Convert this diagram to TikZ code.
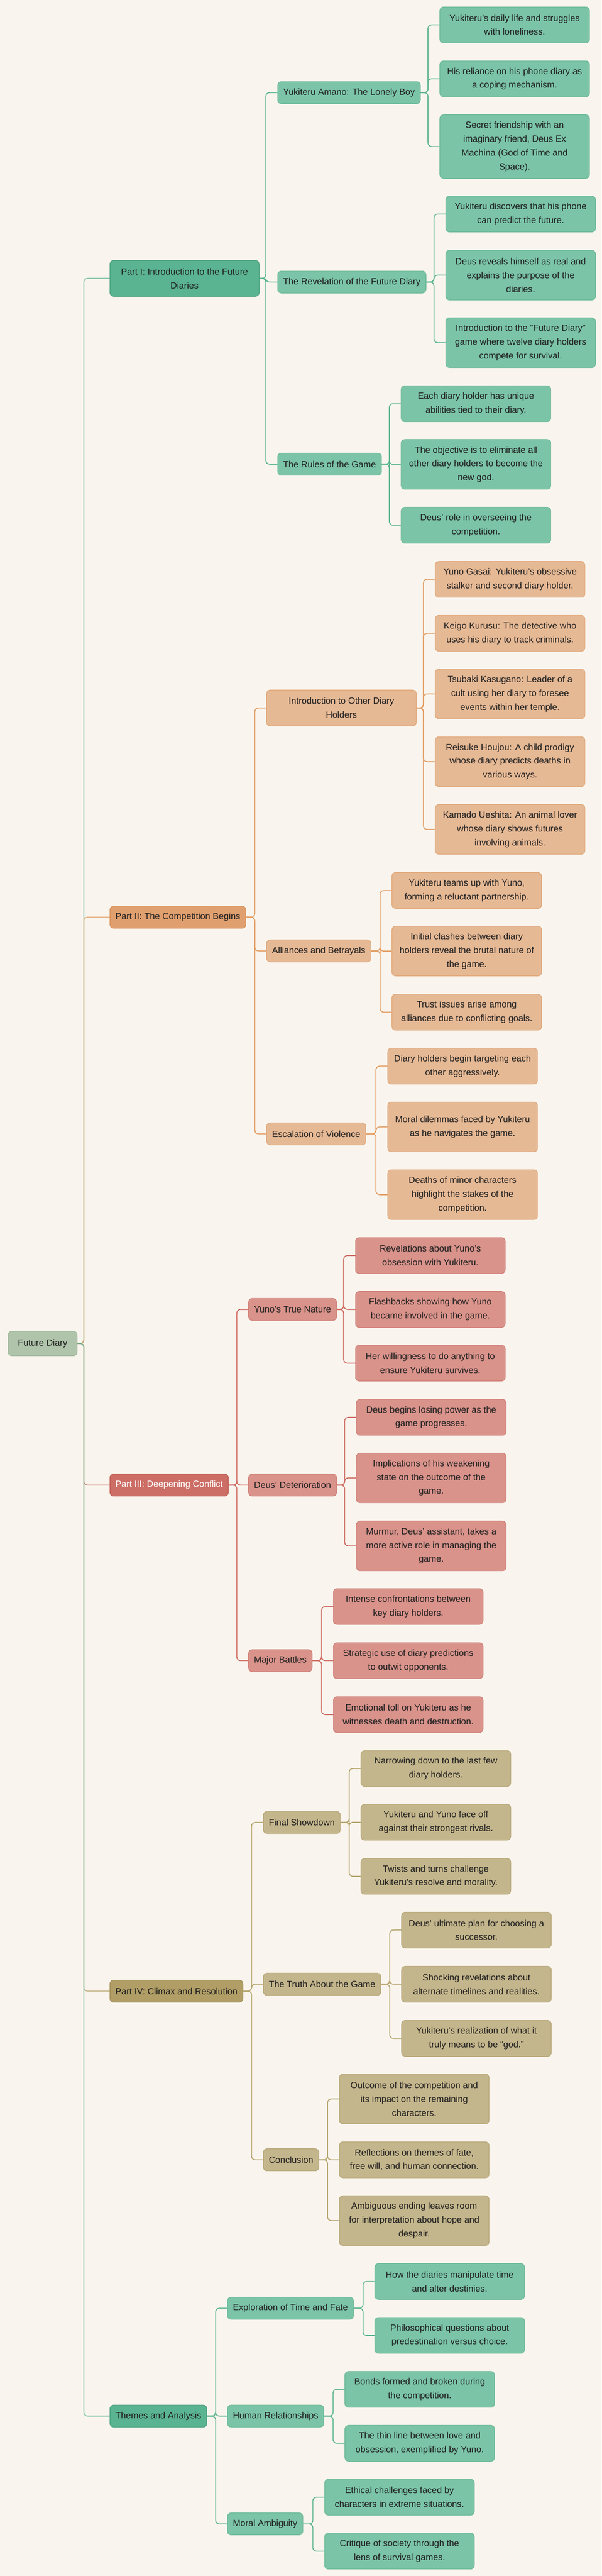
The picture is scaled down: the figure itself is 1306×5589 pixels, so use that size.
\documentclass[tikz,border=0pt]{standalone}
\usepackage{fontspec}
\setmainfont{Liberation Sans}
\usepackage{xcolor}
\usetikzlibrary{calc}
\definecolor{bgc}{HTML}{F9F5EE}
\definecolor{rootc}{HTML}{AFC4AA}
\definecolor{rootd}{HTML}{9DB698}
\definecolor{gA}{HTML}{5AB391}
\definecolor{gAd}{HTML}{4A9E7D}
\definecolor{gB}{HTML}{7BC4A8}
\definecolor{gBd}{HTML}{6AB896}
\definecolor{gL}{HTML}{5DB592}
\definecolor{oA}{HTML}{E09F6E}
\definecolor{oAd}{HTML}{D98E55}
\definecolor{oB}{HTML}{E6B995}
\definecolor{oBd}{HTML}{E0A474}
\definecolor{oL}{HTML}{E39D63}
\definecolor{rA}{HTML}{CC6E66}
\definecolor{rAd}{HTML}{BF5A52}
\definecolor{rB}{HTML}{D9938B}
\definecolor{rBd}{HTML}{D07A72}
\definecolor{rL}{HTML}{CF6C64}
\definecolor{yA}{HTML}{B09E66}
\definecolor{yAd}{HTML}{9E8A50}
\definecolor{yB}{HTML}{C4B68C}
\definecolor{yBd}{HTML}{B5A474}
\definecolor{yL}{HTML}{B5A46C}
\tikzset{
  box/.style={rounded corners=8pt, anchor=west, align=center, line width=1.2pt,
    font=\fontsize{19.5}{30}\selectfont, text=black!88, inner xsep=12pt, inner ysep=0pt},
  part/.style={box, minimum height=48pt},
  topic/.style={box, minimum height=48pt},
  leaf/.style={box, minimum width=325pt, minimum height=#1},
  leaf/.default=78pt,
  link/.style={draw=#1, line width=2pt, rounded corners=8pt},
}

\begin{document}
\begin{tikzpicture}[x=1pt,y=-1pt]
\fill[bgc] (0,0) rectangle (1306,5589);
\useasboundingbox (0,0) rectangle (1306,5589);

\node[box, fill=rootc, draw=rootd, minimum width=150pt, minimum height=53pt] (fd) at (17,2915) {Future Diary};

\node[part, fill=gA, draw=gAd, minimum width=324pt, minimum height=78pt] (p1) at (238,604) {Part I: Introduction to the Future\\Diaries};
\node[part, fill=oA, draw=oAd] (p2) at (238,1990) {Part II: The Competition Begins};
\node[part, fill=rA, draw=rAd, text=white] (p3) at (238,3222) {Part III: Deepening Conflict};
\node[part, fill=yA, draw=yAd] (p4) at (238,4320) {Part IV: Climax and Resolution};
\node[part, fill=gA, draw=gAd] (p5) at (238,5242) {Themes and Analysis};

\foreach \p/\c in {p1/gL,p2/oL,p3/rL,p4/yL,p5/gL}
  \draw[link=\c, draw opacity=.8] (fd.east) -| ([xshift=-56pt]\p.west) -- (\p.west);

% Part I
\foreach \nm/\yy/\txt in {a/201/{Yukiteru Amano: The Lonely Boy},
  b/612/{The Revelation of the Future Diary}, c/1007/{The Rules of the Game}} {
  \node[topic, fill=gB, draw=gBd] (\nm) at (602,\yy) {\txt};
  \draw[link=gL] (p1.east) -| ([xshift=-25pt]\nm.west) -- (\nm.west);
}
\foreach \pa/\nm/\xx/\yy/\hh/\txt in {
  a/a1/954/54/78pt/{Yukiteru's daily life and struggles\\with loneliness.},
  a/a2/954/171/78pt/{His reliance on his phone diary as\\a coping mechanism.},
  a/a3/954/318/138pt/{Secret friendship with an\\imaginary friend, Deus Ex\\Machina (God of Time and\\Space).},
  b/b1/967/464.5/78pt/{Yukiteru discovers that his phone\\can predict the future.},
  b/b2/967/597/108pt/{Deus reveals himself as real and\\explains the purpose of the\\diaries.},
  b/b3/967/743.5/108pt/{Introduction to the "Future Diary"\\game where twelve diary holders\\compete for survival.},
  c/c1/870/876/78pt/{Each diary holder has unique\\abilities tied to their diary.},
  c/c2/870/1007.5/108pt/{The objective is to eliminate all\\other diary holders to become the\\new god.},
  c/c3/870/1139.5/78pt/{Deus' role in overseeing the\\competition.}} {
  \node[leaf=\hh, fill=gB, draw=gBd] (\nm) at (\xx,\yy) {\txt};
  \draw[link=gL] (\pa.east) -| ([xshift=-25pt]\nm.west) -- (\nm.west);
}

% Part II
\node[topic, fill=oB, draw=oBd, minimum width=325pt, minimum height=78pt] (d) at (578,1536) {Introduction to Other Diary\\Holders};
\foreach \nm/\yy/\txt in {e/2063/{Alliances and Betrayals}, f/2460/{Escalation of Violence}}
  \node[topic, fill=oB, draw=oBd] (\nm) at (578,\yy) {\txt};
\foreach \nm in {d,e,f}
  \draw[link=oL] (p2.east) -| ([xshift=-25pt]\nm.west) -- (\nm.west);
\foreach \pa/\nm/\xx/\yy/\hh/\txt in {
  d/d1/944/1257/78pt/{Yuno Gasai: Yukiteru's obsessive\\stalker and second diary holder.},
  d/d2/944/1374/78pt/{Keigo Kurusu: The detective who\\uses his diary to track criminals.},
  d/d3/944/1505.5/108pt/{Tsubaki Kasugano: Leader of a\\cult using her diary to foresee\\events within her temple.},
  d/d4/944/1652.5/108pt/{Reisuke Houjou: A child prodigy\\whose diary predicts deaths in\\various ways.},
  d/d5/944/1799.5/108pt/{Kamado Ueshita: An animal lover\\whose diary shows futures\\involving animals.},
  e/e1/850/1932/78pt/{Yukiteru teams up with Yuno,\\forming a reluctant partnership.},
  e/e2/850/2063.5/108pt/{Initial clashes between diary\\holders reveal the brutal nature of\\the game.},
  e/e3/850/2196/78pt/{Trust issues arise among\\alliances due to conflicting goals.},
  f/f1/841/2313/78pt/{Diary holders begin targeting each\\other aggressively.},
  f/f2/841/2445/108pt/{Moral dilemmas faced by Yukiteru\\as he navigates the game.},
  f/f3/841/2592/108pt/{Deaths of minor characters\\highlight the stakes of the\\competition.}} {
  \node[leaf=\hh, fill=oB, draw=oBd] (\nm) at (\xx,\yy) {\txt};
  \draw[link=oL] (\pa.east) -| ([xshift=-25pt]\nm.west) -- (\nm.west);
}

% Part III
\foreach \nm/\yy/\txt in {g/2841/{Yuno's True Nature}, h/3222/{Deus’ Deterioration}, i/3603/{Major Battles}} {
  \node[topic, fill=rB, draw=rBd] (\nm) at (539,\yy) {\txt};
  \draw[link=rL] (p3.east) -| ([xshift=-25pt]\nm.west) -- (\nm.west);
}
\foreach \pa/\nm/\xx/\yy/\hh/\txt in {
  g/g1/771/2724/78pt/{Revelations about Yuno’s\\obsession with Yukiteru.},
  g/g2/771/2841/78pt/{Flashbacks showing how Yuno\\became involved in the game.},
  g/g3/771/2957.5/78pt/{Her willingness to do anything to\\ensure Yukiteru survives.},
  h/h1/773/3075/78pt/{Deus begins losing power as the\\game progresses.},
  h/h2/773/3206.5/108pt/{Implications of his weakening\\state on the outcome of the\\game.},
  h/h3/773/3354/108pt/{Murmur, Deus’ assistant, takes a\\more active role in managing the\\game.},
  i/i1/723/3485.5/78pt/{Intense confrontations between\\key diary holders.},
  i/i2/723/3603/78pt/{Strategic use of diary predictions\\to outwit opponents.},
  i/i3/723/3720/78pt/{Emotional toll on Yukiteru as he\\witnesses death and destruction.}} {
  \node[leaf=\hh, fill=rB, draw=rBd] (\nm) at (\xx,\yy) {\txt};
  \draw[link=rL] (\pa.east) -| ([xshift=-25pt]\nm.west) -- (\nm.west);
}

% Part IV
\foreach \nm/\yy/\txt in {j/3954/{Final Showdown}, k/4305/{The Truth About the Game}, l/4686/{Conclusion}} {
  \node[topic, fill=yB, draw=yBd] (\nm) at (571,\yy) {\txt};
  \draw[link=yL] (p4.east) -| ([xshift=-25pt]\nm.west) -- (\nm.west);
}
\foreach \pa/\nm/\xx/\yy/\hh/\txt in {
  j/j1/783/3837/78pt/{Narrowing down to the last few\\diary holders.},
  j/j2/783/3953.5/78pt/{Yukiteru and Yuno face off\\against their strongest rivals.},
  j/j3/783/4071/78pt/{Twists and turns challenge\\Yukiteru’s resolve and morality.},
  k/k1/871/4187.5/78pt/{Deus’ ultimate plan for choosing a\\successor.},
  k/k2/871/4305/78pt/{Shocking revelations about\\alternate timelines and realities.},
  k/k3/871/4422.5/78pt/{Yukiteru’s realization of what it\\truly means to be “god.”},
  l/l1/736/4554/108pt/{Outcome of the competition and\\its impact on the remaining\\characters.},
  l/l2/736/4686/78pt/{Reflections on themes of fate,\\free will, and human connection.},
  l/l3/736/4818/108pt/{Ambiguous ending leaves room\\for interpretation about hope and\\despair.}} {
  \node[leaf=\hh, fill=yB, draw=yBd] (\nm) at (\xx,\yy) {\txt};
  \draw[link=yL] (\pa.east) -| ([xshift=-25pt]\nm.west) -- (\nm.west);
}

% Themes
\foreach \nm/\yy/\txt in {m/5008/{Exploration of Time and Fate}, n/5242/{Human Relationships}, o/5476/{Moral Ambiguity}} {
  \node[topic, fill=gB, draw=gBd] (\nm) at (493,\yy) {\txt};
  \draw[link=gL] (p5.east) -| ([xshift=-25pt]\nm.west) -- (\nm.west);
}
\foreach \pa/\nm/\xx/\yy/\hh/\txt in {
  m/m1/813/4950/78pt/{How the diaries manipulate time\\and alter destinies.},
  m/m2/813/5067/78pt/{Philosophical questions about\\predestination versus choice.},
  n/n1/748/5184/78pt/{Bonds formed and broken during\\the competition.},
  n/n2/748/5301/78pt/{The thin line between love and\\obsession, exemplified by Yuno.},
  o/o1/704/5418/78pt/{Ethical challenges faced by\\characters in extreme situations.},
  o/o2/704/5535/78pt/{Critique of society through the\\lens of survival games.}} {
  \node[leaf=\hh, fill=gB, draw=gBd] (\nm) at (\xx,\yy) {\txt};
  \draw[link=gL] (\pa.east) -| ([xshift=-25pt]\nm.west) -- (\nm.west);
}
\end{tikzpicture}
\end{document}
